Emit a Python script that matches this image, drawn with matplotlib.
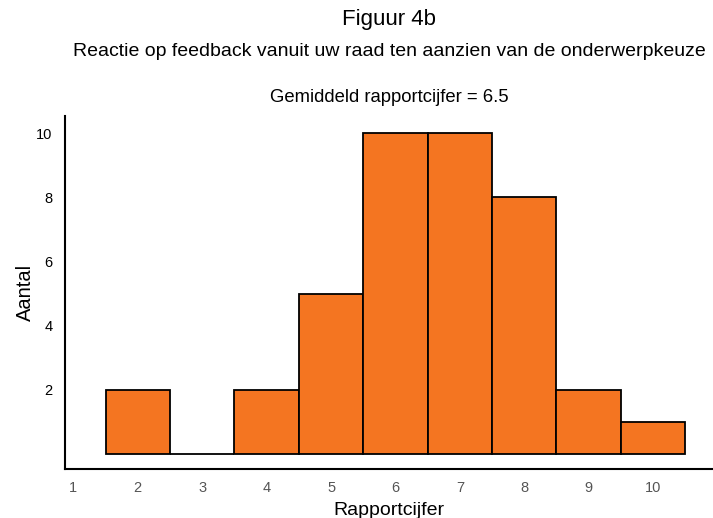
import matplotlib.pyplot as plt

plt.rcParams['font.family'] = ['Liberation Sans', 'DejaVu Sans']

# gegevens
cijfers = [2, 3, 4, 5, 6, 7, 8, 9, 10]
aantal = [2, 0, 2, 5, 10, 10, 8, 2, 1]
x_ticks = list(range(1, 11))
y_ticks = [2, 4, 6, 8, 10]

fig = plt.figure(figsize=(7.13, 5.18), dpi=100)
ax = fig.add_axes([0.0912, 0.0946, 0.9088, 0.681])

ax.bar(cijfers, aantal, width=1.0, color='#F47521', edgecolor='black', linewidth=1.3)

ax.set_xlim(0.87, 10.93)
ax.set_ylim(-0.47, 10.53)
ax.set_xticks(x_ticks)
ax.set_yticks(y_ticks)
ax.tick_params(axis='both', length=0)
ax.tick_params(axis='x', colors='#555555', labelsize=10.5, pad=9)
ax.tick_params(axis='y', labelsize=10.5, pad=9)

for s in ['top', 'right']:
    ax.spines[s].set_visible(False)
for s in ['left', 'bottom']:
    ax.spines[s].set_linewidth(1.5)

ax.set_xlabel('Rapportcijfer', fontsize=14, labelpad=5)
ax.set_ylabel('Aantal', fontsize=14.5, labelpad=1)

cx = 0.0912 + 0.9088 / 2
fig.text(cx, 1 - 20 / 518, 'Figuur 4b', ha='center', va='center', fontsize=16)
fig.text(cx, 1 - 52 / 518, 'Reactie op feedback vanuit uw raad ten aanzien van de onderwerpkeuze',
         ha='center', va='center', fontsize=14)
fig.text(cx, 1 - 97 / 518, 'Gemiddeld rapportcijfer = 6.5', ha='center', va='center', fontsize=13.3)

fig.savefig('out.png', dpi=100)
